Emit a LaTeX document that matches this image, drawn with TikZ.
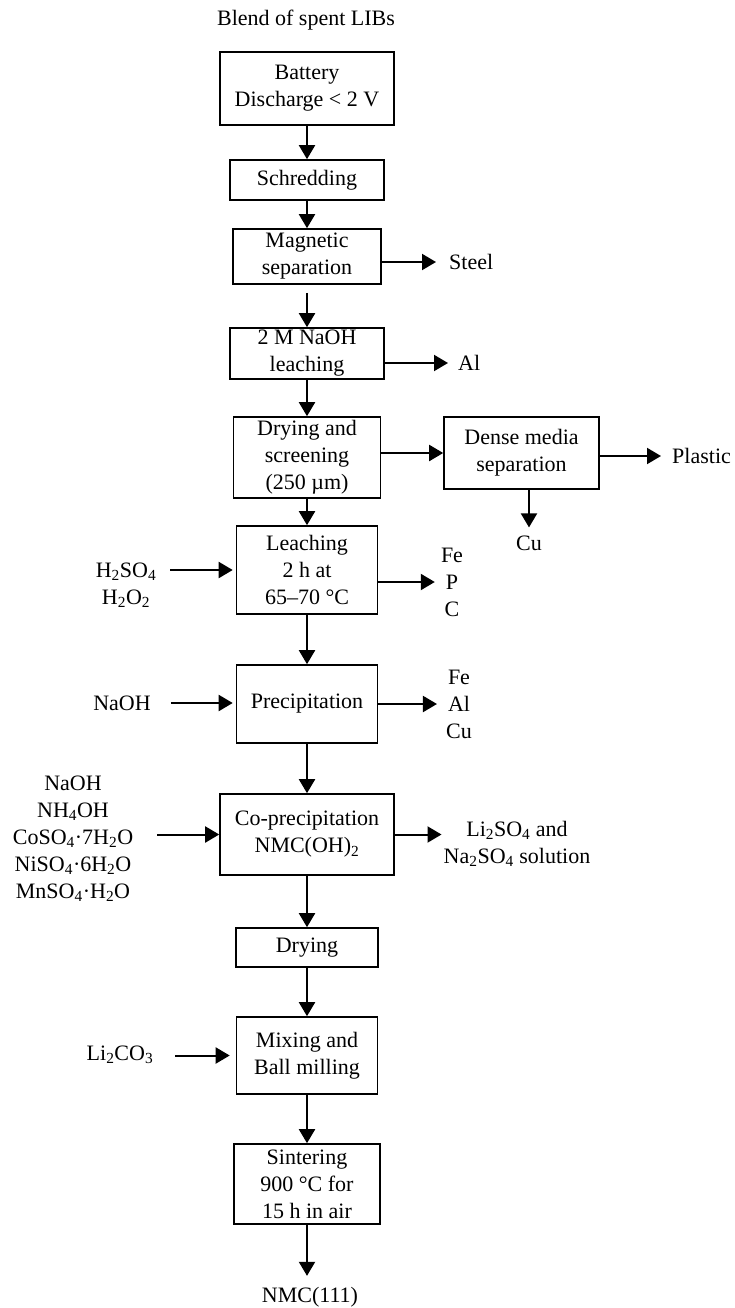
\documentclass[tikz,border=0pt]{standalone}
\usepackage{fontspec}
\setmainfont{Liberation Serif}
\usetikzlibrary{arrows.meta}
\newcommand{\ssub}[1]{\textsubscript{#1}}

\begin{document}
\begin{tikzpicture}[x=1pt,y=-1pt,
  font=\fontsize{22}{27}\selectfont,
  box/.style={draw,line width=1.6pt,align=center,inner sep=2pt},
  lbl/.style={align=center,inner sep=0pt},
  arr/.style={-{Triangle[length=14pt,width=16pt]},line width=2pt}]
  \useasboundingbox (0,0) rectangle (734,1308);

  % main process line
  \node[lbl] (blend) at (306,20) {Blend of spent LIBs};
  \node[box,minimum width=174pt,minimum height=73pt] (battery) at (307,88.5) {Battery\\Discharge < 2 V};
  \node[box,minimum width=154pt,minimum height=40pt] (shred) at (307,180) {Schredding};
  \node[box,minimum width=148pt,minimum height=55pt] (magsep) at (307,256.5) {Magnetic\\separation};
  \node[box,minimum width=154pt,minimum height=51pt] (naoh) at (307,353.5) {2 M NaOH\\leaching};
  \node[box,minimum width=147pt,minimum height=81pt] (dryscreen) at (307,457.5) {Drying and\\screening\\(250 µm)};
  \node[box,minimum width=155pt,minimum height=72pt] (dense) at (521.5,453) {Dense media\\separation};
  \node[box,minimum width=141pt,minimum height=88pt] (leach) at (307,570) {Leaching\\2 h at\\65–70 °C};
  \node[box,minimum width=141pt,minimum height=78pt] (precip) at (307,704) {Precipitation};
  \node[box,minimum width=174pt,minimum height=81pt] (coprecip) at (307,834.5) {Co-precipitation\\NMC(OH)\ssub{2}};
  \node[box,minimum width=142pt,minimum height=39pt] (drying) at (307,947.5) {Drying};
  \node[box,minimum width=141pt,minimum height=77pt] (mixing) at (307,1055.5) {Mixing and\\Ball milling};
  \node[box,minimum width=146pt,minimum height=80pt] (sinter) at (307,1184) {Sintering\\900 °C for\\15 h in air};
  \node[lbl] (nmc) at (310,1297) {NMC(111)};

  % inputs and outputs
  \node[lbl,anchor=west] (steel) at (449,262) {Steel};
  \node[lbl,anchor=west] (al) at (458,363) {Al};
  \node[lbl,anchor=west] (plastic) at (672,456) {Plastic};
  \node[lbl] (cu) at (529,543) {Cu};
  \node[lbl] (acids) at (126,585) {H\ssub{2}SO\ssub{4}\\H\ssub{2}O\ssub{2}};
  \node[lbl] (fepc) at (452,582) {Fe\\P\\C};
  \node[lbl] (naohin) at (122,703) {NaOH};
  \node[lbl] (fealcu) at (459,704) {Fe\\Al\\Cu};
  \node[lbl] (salts) at (73,839) {NaOH\\NH\ssub{4}OH\\CoSO\ssub{4}·7H\ssub{2}O\\NiSO\ssub{4}·6H\ssub{2}O\\MnSO\ssub{4}·H\ssub{2}O};
  \node[lbl] (lisol) at (517,844) {Li\ssub{2}SO\ssub{4} and\\Na\ssub{2}SO\ssub{4} solution};
  \node[lbl] (licarb) at (120,1055) {Li\ssub{2}CO\ssub{3}};

  \draw[arr] (battery) -- (shred);
  \draw[arr] (shred) -- (magsep);
  \draw[arr,shorten <=8pt] (magsep) -- (naoh);
  \draw[arr] (naoh) -- (dryscreen);
  \draw[arr] (dryscreen) -- (leach);
  \draw[arr] (leach) -- (precip);
  \draw[arr] (precip) -- (coprecip);
  \draw[arr] (coprecip) -- (drying);
  \draw[arr] (drying) -- (mixing);
  \draw[arr] (mixing) -- (sinter);
  \draw[arr,shorten >=11pt] (sinter.south) -- (sinter.south |- nmc.north);

  \draw[arr,shorten >=13pt] (magsep.east |- steel) -- (steel.west);
  \draw[arr,shorten >=10pt] (naoh.east |- al) -- (al.west);
  \draw[arr] (dryscreen.east |- dense) -- (dense.west);
  \draw[arr,shorten >=11pt] (dense.east |- plastic) -- (plastic.west);
  \draw[arr,shorten >=8pt] (dense.south -| cu) -- (cu.north);
  \draw[arr,shorten <=14pt,shorten >=3pt] (leach.west -| acids.east) -- (leach.west);
  \draw[arr,shorten >=6pt] (leach.east |- fepc) -- (fepc.west);
  \draw[arr,shorten <=20pt,shorten >=3pt] (naohin.east) -- (naohin.east -| precip.west);
  \draw[arr,shorten >=9pt] (precip.east) -- (precip.east -| fealcu.west);
  \draw[arr,shorten <=24pt] (salts.east |- coprecip) -- (coprecip.west);
  \draw[arr,shorten >=2pt] (coprecip.east) -- (coprecip.east -| lisol.west);
  \draw[arr,shorten <=22pt,shorten >=6pt] (licarb.east |- mixing) -- (mixing.west);
\end{tikzpicture}
\end{document}
